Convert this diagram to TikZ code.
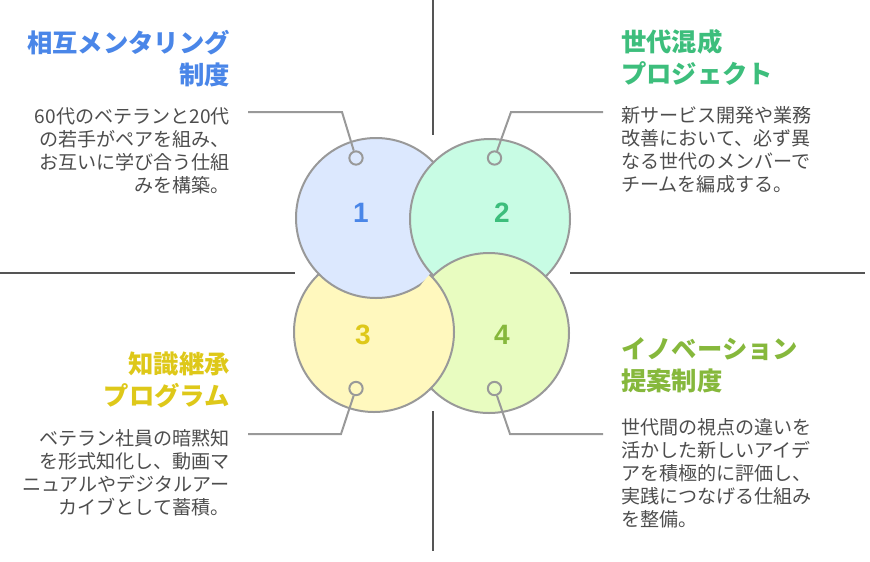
\documentclass[tikz,border=0pt]{standalone}
\usepackage{fontspec}
\newfontfamily\jp{Noto Sans CJK JP}
\newfontfamily\numfont{Liberation Sans}
\definecolor{ringgray}{HTML}{999999}
\definecolor{axisgray}{HTML}{555555}
\definecolor{bodygray}{HTML}{4D4D4D}
\definecolor{blueA}{HTML}{4A86E8}
\definecolor{greenB}{HTML}{3DBE7C}
\definecolor{yellowC}{HTML}{DEC819}
\definecolor{limeD}{HTML}{86B83C}
\definecolor{fillA}{HTML}{DCE8FE}
\definecolor{fillB}{HTML}{C8FCE4}
\definecolor{fillC}{HTML}{FFF8BE}
\definecolor{fillD}{HTML}{E8FCC0}
\begin{document}
\begin{tikzpicture}[x=0.75pt,y=-0.75pt,
  bigc/.style={circle, draw=ringgray, line width=1.5pt, minimum size=120pt, inner sep=0pt},
  ring/.style={circle, draw=ringgray, line width=1.5pt, minimum size=10pt, inner sep=0pt},
  leader/.style={draw=ringgray, line width=1.5pt},
  axis/.style={draw=axisgray, line width=1.5pt},
  titletext/.style={font=\jp\bfseries\fontsize{19}{24}\selectfont, inner sep=0pt},
  bodytext/.style={font=\jp\fontsize{14.3}{17.25}\selectfont, text=bodygray, inner sep=0pt},
  numtext/.style={font=\numfont\bfseries\fontsize{21}{21}\selectfont, inner sep=0pt}]
\useasboundingbox (0,0) rectangle (870,561);
% axes
\draw[axis] (433,0) -- (433,135);
\draw[axis] (433,411) -- (433,551);
\draw[axis] (0,273) -- (295,273);
\draw[axis] (570,273) -- (865,273);
% circles (cyclic overlap)
\node[bigc, fill=fillC] (c3) at (374,332) {};
\node[bigc, fill=fillA] (c1) at (376,218) {};
\node[bigc, fill=fillB] (c2) at (490,219) {};
\node[bigc, fill=fillD] (c4) at (489,333) {};
\begin{scope}
  \clip (489,333) circle[radius=62.5pt];
  \node[bigc, fill=fillC] (c3b) at (374,332) {};
\end{scope}
% numbers
\node[numtext, text=blueA] (n1) at (361,213) {1};
\node[numtext, text=greenB] (n2) at (502,213) {2};
\node[numtext, text=yellowC] (n3) at (363,335) {3};
\node[numtext, text=limeD] (n4) at (502,335) {4};
% rings
\node[ring, fill=fillA] (r1) at (356,158) {};
\node[ring, fill=fillB] (r2) at (494.5,158) {};
\node[ring, fill=fillC] (r3) at (356,388.5) {};
\node[ring, fill=fillD] (r4) at (494.5,388.5) {};
% leader lines
\coordinate (k1) at (342,112); \coordinate (e1) at (248,112);
\coordinate (k2) at (511,112); \coordinate (e2) at (603,112);
\coordinate (k3) at (341,434); \coordinate (e3) at (248,434);
\coordinate (k4) at (510,434); \coordinate (e4) at (603,434);
\draw[leader] (r1) -- (k1) -- (e1);
\draw[leader] (r2) -- (k2) -- (e2);
\draw[leader] (r3) -- (k3) -- (e3);
\draw[leader] (r4) -- (k4) -- (e4);
% texts (anchor base = baseline of the last line)
\node[titletext, text=blueA, align=right, anchor=base east] (t1) at (230,84) {相互メンタリング\\制度};
\node[bodytext, align=right, anchor=base east] (b1) at (230,192) {60代のベテランと20代\\の若手がペアを組み、\\お互いに学び合う仕組\\みを構築。};
\node[titletext, text=greenB, align=left, anchor=base west] (t2) at (621,83) {世代混成\\プロジェクト};
\node[bodytext, align=left, anchor=base west] (b2) at (621,191.5) {新サービス開発や業務\\改善において、必ず異\\なる世代のメンバーで\\チームを編成する。};
\node[titletext, text=yellowC, align=right, anchor=base east] (t3) at (230,405) {知識継承\\プログラム};
\node[bodytext, align=right, anchor=base east] (b3) at (230,514) {ベテラン社員の暗黙知\\を形式知化し、動画マ\\ニュアルやデジタルアー\\カイブとして蓄積。};
\node[titletext, text=limeD, align=left, anchor=base west] (t4) at (621,390) {イノベーション\\提案制度};
\node[bodytext, align=left, anchor=base west] (b4) at (621,526) {世代間の視点の違いを\\活かした新しいアイデ\\アを積極的に評価し、\\実践につなげる仕組み\\を整備。};
\end{tikzpicture}
\end{document}
